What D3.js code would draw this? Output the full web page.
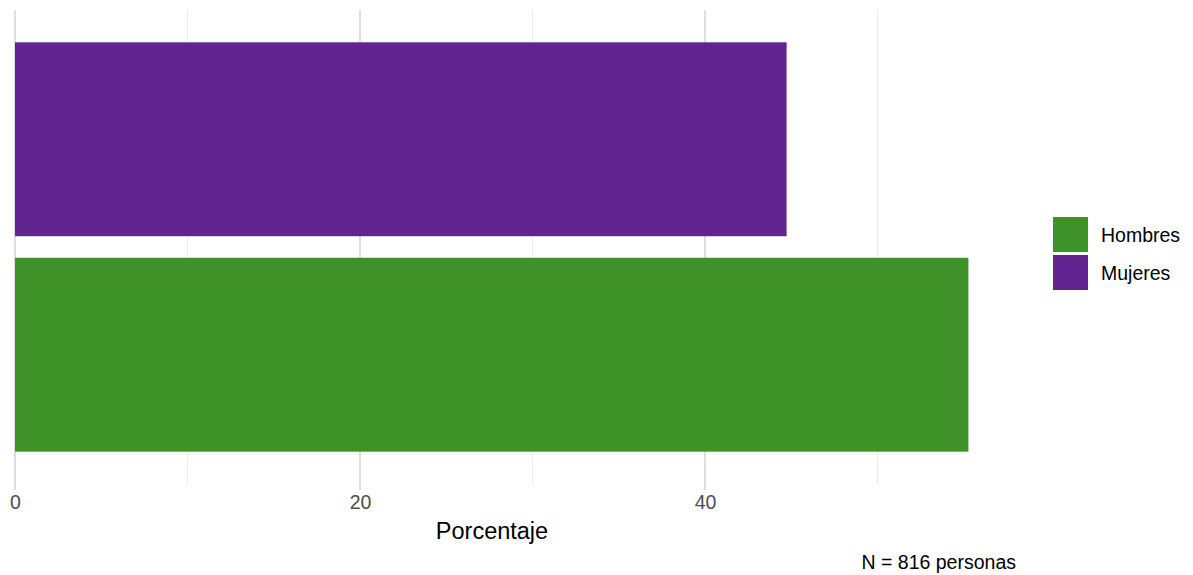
<!DOCTYPE html>
<html><head><meta charset="utf-8">
<script src="https://cdn.jsdelivr.net/npm/d3@7"></script>
<style>body{margin:0;background:#fff}svg{display:block;font-family:"Liberation Sans",Arial,sans-serif}</style>
</head><body>
<svg id="c" width="1193" height="575"></svg>
<script>
const categories = ["Hombres", "Mujeres"];
const values = [55.27, 44.73];
const colors = ["#3f9228", "#612490"];
const majorTicks = [0, 20, 40];
const minorTicks = [10, 30, 50];
const xTitle = "Porcentaje";
const caption = "N = 816 personas";

const svg = d3.select("#c");
const panelTop = 10, panelBottom = 484;
const x = d3.scaleLinear().domain([0, 40]).range([15, 705]);
const unit = (panelBottom - panelTop) / 2.2;
const y = d3.scalePoint().domain(["Mujeres", "Hombres"]).range([panelBottom - 1.6 * unit, panelBottom - 0.6 * unit]);

const g = svg.append("g");
minorTicks.forEach(t => g.append("line").attr("x1", x(t)).attr("x2", x(t)).attr("y1", panelTop).attr("y2", panelBottom).attr("stroke", "#ebebeb").attr("stroke-width", 1.1));
majorTicks.forEach(t => g.append("line").attr("x1", x(t)).attr("x2", x(t)).attr("y1", panelTop).attr("y2", panelBottom + 6).attr("stroke", "#dedede").attr("stroke-width", 2));

categories.forEach((c, i) => {
  g.append("rect").attr("x", x(0)).attr("width", x(values[i]) - x(0))
    .attr("y", y(c) - 0.45 * unit).attr("height", 0.9 * unit).attr("fill", colors[i]);
});

const axis = d3.axisBottom(x).tickValues(majorTicks).tickSize(0).tickPadding(0);
const ax = svg.append("g").attr("transform", `translate(0,${panelBottom + 6})`).call(axis);
ax.attr("font-family", null);
ax.select(".domain").remove();
ax.selectAll("text").attr("fill", "#4d4d4d").attr("font-size", 19.5).attr("dy", "0.95em");

svg.append("text").attr("x", 492).attr("y", 539).attr("text-anchor", "middle").attr("font-size", 23.5).attr("fill", "#000").text(xTitle);
svg.append("text").attr("x", 1016).attr("y", 569).attr("text-anchor", "end").attr("font-size", 19.5).attr("fill", "#000").text(caption);

const lg = svg.append("g");
categories.forEach((c, i) => {
  const top = 217 + i * 38;
  lg.append("rect").attr("x", 1053).attr("y", top).attr("width", 35).attr("height", 35).attr("fill", colors[i]);
  lg.append("text").attr("x", 1101).attr("y", top + 24.5).attr("font-size", 19.5).attr("fill", "#000").text(c);
});
</script>
</body></html>
